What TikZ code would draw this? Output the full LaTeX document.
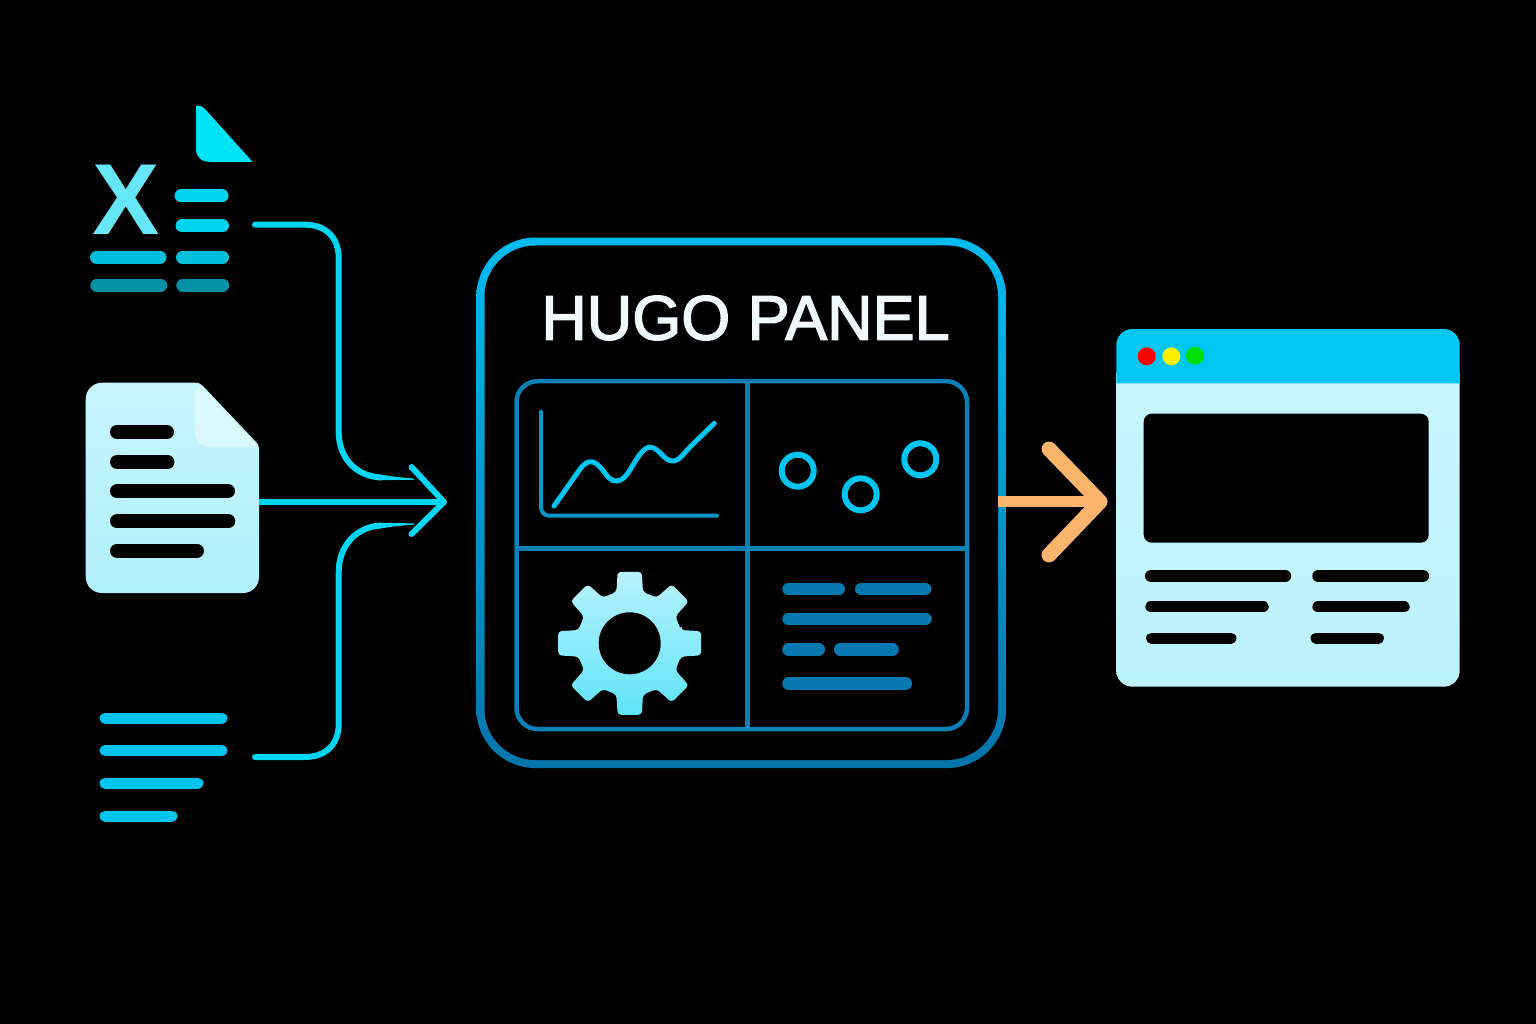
\documentclass[tikz,border=0pt]{standalone}
\usepackage{fontspec}
\setmainfont{Liberation Sans}
\newfontfamily\titlefont[FakeBold=2.2]{Liberation Sans}
\usetikzlibrary{calc}
\definecolor{cyanline}{HTML}{00D6F2}
\definecolor{panelline}{HTML}{0A80B6}
\definecolor{panelbar}{HTML}{0778B0}
\definecolor{skyline}{HTML}{00C4F0}
\definecolor{paleA}{HTML}{C8F5FC}
\definecolor{paleB}{HTML}{B0F0FB}
\definecolor{orangeline}{HTML}{FBB46C}
\definecolor{xbarA}{HTML}{00D4EE}
\definecolor{xbarB}{HTML}{04BFDA}
\definecolor{xbarC}{HTML}{0590A8}
\definecolor{paneltop}{HTML}{00BCF0}
\definecolor{panelbot}{HTML}{0474AA}
\definecolor{geartop}{HTML}{B8F2FC}
\definecolor{gearbot}{HTML}{60E4F8}
\definecolor{headblue}{HTML}{00C6F4}
\definecolor{dotred}{HTML}{FF0000}
\definecolor{dotyel}{HTML}{FFEE00}
\definecolor{dotgrn}{HTML}{00E000}
\definecolor{cornerfill}{HTML}{00E2F5}
\definecolor{titlewhite}{HTML}{F0FAFC}
\tikzset{
  pxbar/.style={line cap=round,line width=#1},
  conn/.style={cyanline,line width=6pt,line cap=round,line join=round},
  cell/.style={panelline,line width=4.5pt},
  ring/.style={draw=skyline,line width=6pt,circle,minimum size=32pt,inner sep=0pt},
  dot/.style={circle,minimum size=18pt,inner sep=0pt},
}
\newcommand{\pxbarline}[5]{\draw[pxbar=#4,#5] (#1,#3) -- (#2,#3);}
\begin{document}
\begin{tikzpicture}[x=1pt,y=-1pt]
\useasboundingbox (0,0) rectangle (1536,1024);
\fill[black] (0,0) rectangle (1536,1024);

% --- spreadsheet icon
\fill[cornerfill] (196,106) -- (198,105.5)
  .. controls (201,105.5) and (203,107) .. (205,109) -- (252.5,161.8) -- (210,161.8)
  .. controls (201,161.8) and (196,157) .. (196,149) -- cycle;
\node[text=white!40!cyanline,inner sep=0pt,font=\fontsize{101}{101}\selectfont\bfseries] (xmark) at (126,200) {X};
\pxbarline{181}{222}{196}{13pt}{xbarA}
\pxbarline{182}{222.5}{226}{13pt}{xbarA}
\pxbarline{96.5}{160}{257.3}{13pt}{xbarB}
\pxbarline{182.5}{222.5}{257.3}{13pt}{xbarB}
\pxbarline{96.5}{161}{285.3}{12.5pt}{xbarC}
\pxbarline{182.5}{223}{285.3}{12.5pt}{xbarC}

% --- document icon
\shade[top color=paleA,bottom color=paleB]
  (85.7,399) .. controls (85.7,390) and (93,382.7) .. (102,382.7) -- (195,382.7)
  .. controls (199,382.7) and (201,384) .. (203,386) -- (256.5,442.5)
  .. controls (258,444) and (259,446) .. (259,449) -- (259,577)
  .. controls (259,586) and (252,593) .. (243,593) -- (102,593)
  .. controls (93,593) and (85.7,586) .. (85.7,577) -- cycle;
\fill[white!35!paleA] (194.3,391.7) -- (200,385.5) -- (258,446.5) -- (208,446.5)
  .. controls (199,446.5) and (195,440) .. (195,432) -- cycle;
\pxbarline{117}{167}{432}{14pt}{black}
\pxbarline{117}{167.5}{462}{14pt}{black}
\pxbarline{117}{228}{491.3}{14pt}{black}
\pxbarline{117}{228.3}{521.3}{14pt}{black}
\pxbarline{117}{197}{550.7}{14pt}{black}

% --- list icon
\pxbarline{105}{222}{718}{11pt}{skyline}
\pxbarline{105}{222}{750.5}{11pt}{skyline}
\pxbarline{105}{198}{783}{11pt}{skyline}
\pxbarline{105}{172}{816}{11pt}{skyline}

% --- connector anchors
\coordinate (excelOut) at (255,224.7);
\coordinate (docOut) at (259,502);
\coordinate (listOut) at (255,757);
\coordinate (inTip) at (444,502);
\coordinate (inUp) at (411.5,467);
\coordinate (inDown) at (411.5,534);
\coordinate (panelOut) at (998,501.7);
\coordinate (webTip) at (1100,501.7);
\coordinate (webUp) at (1049,449);
\coordinate (webDown) at (1049,555);

% --- connectors
\draw[conn] (excelOut) -- (305,224.7) .. controls (326,224.7) and (338.7,238) .. (338.7,258) -- (338.7,432)
  .. controls (338.7,458) and (356,476) .. (380,477.4);
\fill[cyanline] (379,474.3) .. controls (392,476.6) and (403,477.6) .. (414,478.6) -- (414,479.8)
  .. controls (403,479.8) and (392,480) .. (379,480.3) -- cycle;
\draw[conn] (listOut) -- (305,757) .. controls (326,757) and (338.7,744) .. (338.7,724) -- (338.7,572)
  .. controls (338.7,546) and (356,527) .. (380,525.6);
\fill[cyanline] (379,528.7) .. controls (392,526.4) and (403,525.4) .. (414,524.6) -- (414,523.4)
  .. controls (403,523.2) and (392,523) .. (379,522.7) -- cycle;
\draw[conn,line cap=butt] (docOut) -- (inTip);
\draw[conn] (inUp) -- (inTip) -- (inDown);

% --- panel
\node[draw=none,rounded corners=59pt,minimum width=529.7pt,minimum height=530.5pt,inner sep=0pt,
  top color=paneltop,bottom color=panelbot] (panel) at (741.2,502.8) {};
\fill[black,rounded corners=51pt] (484.5,245.5) rectangle (998,760);
\node[text=titlewhite,inner sep=0pt,font=\titlefont\fontsize{63}{63}\selectfont] (title) at (745.5,318) {HUGO PANEL};

% --- dashboard grid
\draw[cell,rounded corners=21pt] (516.5,381.2) rectangle (967,729);
\draw[cell] (747.3,381) -- (747.3,729);
\draw[cell] (516.5,548.3) -- (967,548.3);

% chart
\draw[panelline!70!skyline,line width=4pt,line cap=round,rounded corners=8pt] (541,411.7) -- (541,515.7) -- (717,515.7);
\draw[skyline,line width=5pt,line cap=round,line join=round]
  (554,506) -- (578,472) .. controls (585,461) and (592,458) .. (600,467)
  .. controls (608,476) and (610,482) .. (617,481) .. controls (626,480) and (630,469) .. (638,457)
  .. controls (645,447) and (650,444) .. (658,451) .. controls (664,456) and (667,462) .. (674,461)
  .. controls (680,460) and (684,453) .. (690,447) -- (714.3,423.3);

% circles
\node[ring] (ringA) at (797.7,470.7) {};
\node[ring] (ringB) at (860.7,494.3) {};
\node[ring] (ringC) at (920.3,459.3) {};

% gear
\coordinate (gearC) at (629.7,643.3);
\shade[top color=geartop,bottom color=gearbot,rounded corners=3.5pt]
  ($(gearC)+(-14.5:53)$)
  foreach \a in {0,45,...,315} {
    -- ($(gearC)+(\a-14.5:53)$) -- ($(gearC)+(\a-9.6:72.5)$) -- ($(gearC)+(\a+9.6:72.5)$) -- ($(gearC)+(\a+14.5:53)$)
  } -- cycle;
\node[circle,fill=black,minimum size=62pt,inner sep=0pt] (gearHole) at (gearC) {};

% text bars in panel
\pxbarline{788.5}{838.8}{589}{12.5pt}{panelbar}
\pxbarline{861.2}{925.1}{589}{12.5pt}{panelbar}
\pxbarline{788.5}{925.5}{619}{12.5pt}{panelbar}
\pxbarline{788.5}{818.8}{649.3}{12.5pt}{panelbar}
\pxbarline{840.2}{892.5}{649.3}{12.5pt}{panelbar}
\pxbarline{788.5}{905.8}{683.7}{12.5pt}{panelbar}

% --- web page window
\shade[top color=paleA,bottom color=paleA!55!paleB,rounded corners=16pt]
  (1116.3,360) rectangle (1459.7,686.7);
\fill[headblue] (1116.3,383.3) -- (1116.3,345) arc[start angle=180,end angle=90,radius=16pt] -- (1443.7,329) arc[start angle=90,end angle=0,radius=16pt] -- (1459.7,383.3) -- cycle;
\node[dot,fill=dotred] (dotR) at (1146.7,356.3) {};
\node[dot,fill=dotyel] (dotY) at (1171.3,356.3) {};
\node[dot,fill=dotgrn] (dotG) at (1195,355.7) {};
\fill[black,rounded corners=8pt] (1143.7,413.7) rectangle (1428.7,542.7);
\pxbarline{1151.2}{1285}{576}{12.5pt}{black}
\pxbarline{1318.5}{1422.8}{576}{12.5pt}{black}
\pxbarline{1151}{1263}{606.7}{11.5pt}{black}
\pxbarline{1318}{1404}{606.7}{11.5pt}{black}
\pxbarline{1151.5}{1231}{638}{11pt}{black}
\pxbarline{1316}{1378.5}{638}{11pt}{black}

% --- output arrow
\draw[orangeline,line width=11pt] (panelOut) -- (webTip);
\draw[orangeline,line width=15pt,line cap=round,line join=round] (webUp) -- (webTip) -- (webDown);
\end{tikzpicture}
\end{document}
